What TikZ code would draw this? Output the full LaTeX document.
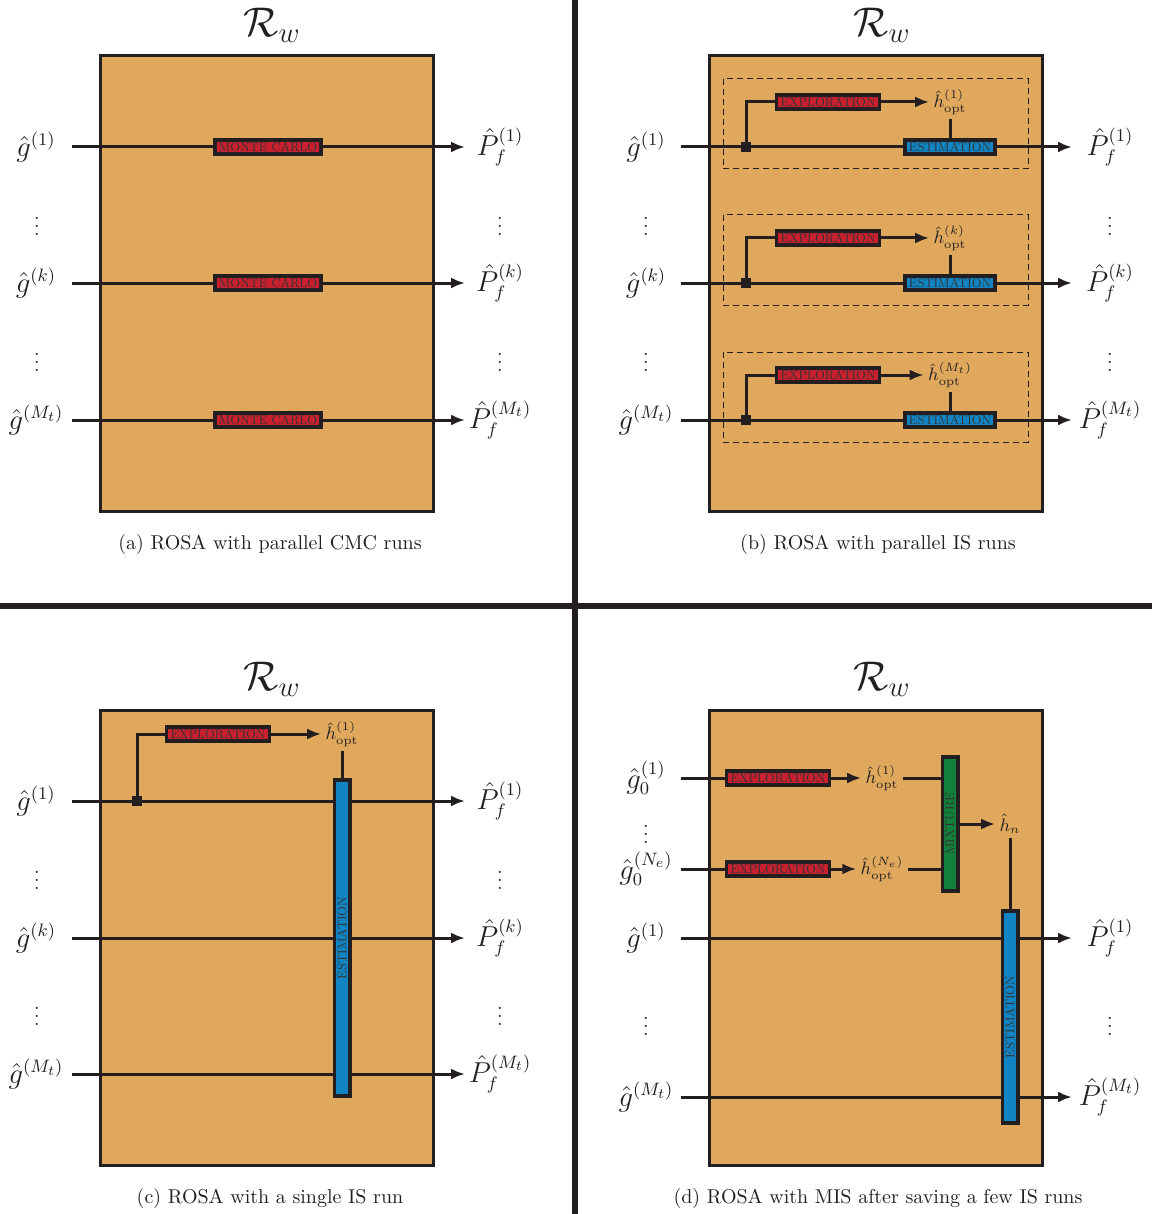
\documentclass[tikz,border=0pt]{standalone}
\usepackage{amsmath}
\usepackage{amssymb}
\usepackage{tikz}
\usetikzlibrary{arrows.meta}

\definecolor{rwfill}{RGB}{223,168,93}
\definecolor{mcred}{RGB}{200,32,46}
\definecolor{isblue}{RGB}{17,133,196}
\definecolor{mixgreen}{RGB}{18,128,58}
\definecolor{ink}{RGB}{35,31,32}

% small capitals-like labels inside the blocks
\newcommand{\blocktext}[1]{\scalebox{0.63}{#1}}

\begin{document}
\begin{tikzpicture}[x=0.5pt, y=-0.5pt,  % one unit is one pixel of the sketch, y runs downwards
    wire/.style={draw=ink, line width=1.5pt},
    arr/.style={wire, -{Latex[length=7pt,width=5.5pt]}},
    panel/.style={draw=ink, fill=rwfill, line width=1.5pt},
    blockbox/.style={draw=ink, line width=1.8pt, text=black!80,
        inner xsep=2.1pt, inner ysep=0pt, minimum height=7.2pt},
    redbox/.style={blockbox, fill=mcred},
    bluebox/.style={blockbox, fill=isblue},
    greenbox/.style={blockbox, fill=mixgreen},
    tallbox/.style={inner xsep=1pt, minimum width=7.7pt},
    junction/.style={fill=ink, inner sep=0pt, minimum size=5pt},
    title/.style={font=\huge, text=ink, inner sep=0pt},
    lab/.style={font=\fontsize{13.5}{16}\selectfont, text=ink, inner sep=1pt},
    hlab/.style={font=\small, text=ink, inner sep=2pt},
    vdot/.style={text=ink, inner sep=0pt},
    caption/.style={font=\normalsize, text=ink, inner sep=1pt},
    dashbox/.style={draw=ink, line width=0.5pt, dash pattern=on 3pt off 2pt}
]
    \useasboundingbox (0,0) rectangle (1152,1214);

    % Separators between the four sub-figures
    \draw[ink, line width=3pt] (575,0) -- (575,1214);
    \draw[ink, line width=3pt] (0,606) -- (1152,606);

    % ---------- (a) parallel CMC runs ----------
    \node[title] (ta) at (272,25) {$\mathcal{R}_w$};
    \draw[panel] (100,56) rectangle (433,511);
    \foreach \y/\k [count=\i] in {147/1, 283/k, 420/M_t} {
        \node[lab] (ga\i) at (36,\y) {$\hat{g}^{(\k)}$};
        \coordinate (ina\i) at (72,\y);
        \coordinate (outa\i) at (465,\y);
        \draw[arr] (ina\i) -- (outa\i);
        \node[redbox] (mca\i) at (268,\y) {\blocktext{MONTE CARLO}};
        \node[lab] (pa\i) at (500,\y) {$\hat{P}_f^{(\k)}$};
    }
    \foreach \y [count=\i] in {220, 356} {
        \node[vdot] (dla\i) at (37,\y) {$\vdots$};
        \node[vdot] (dra\i) at (500,\y) {$\vdots$};
    }
    \node[caption] (ca) at (270,544) {(a) ROSA with parallel CMC runs};

    % ---------- (b) parallel IS runs ----------
    \node[title] (tb) at (882,25) {$\mathcal{R}_w$};
    \draw[panel] (709,56) rectangle (1042,511);
    \foreach \y/\k [count=\i] in {147/1, 283/k, 420/M_t} {
        \draw[dashbox] (723,\y-68) rectangle (1028,\y+22);
        \node[lab] (gb\i) at (646,\y) {$\hat{g}^{(\k)}$};
        \coordinate (inb\i) at (681,\y);
        \coordinate (outb\i) at (1072,\y);
        \draw[arr] (inb\i) -- (outb\i);
        \node[junction] (jb\i) at (746,\y) {};
        \node[redbox] (xb\i) at (828,\y-45) {\blocktext{EXPLORATION}};
        \node[hlab] (hb\i) at (950,\y-45) {$\hat{h}_{\text{opt}}^{(\k)}$};
        \node[bluebox] (eb\i) at (950,\y) {\blocktext{ESTIMATION}};
        \node[lab] (pb\i) at (1110,\y) {$\hat{P}_f^{(\k)}$};
        \draw[wire] (jb\i.center) |- (xb\i);
        \draw[arr] (xb\i) -- (hb\i);
        \draw[wire] (hb\i) -- (eb\i);
    }
    \foreach \y [count=\i] in {220, 356} {
        \node[vdot] (dlb\i) at (646,\y) {$\vdots$};
        \node[vdot] (drb\i) at (1110,\y) {$\vdots$};
    }
    \node[caption] (cb) at (878,544) {(b) ROSA with parallel IS runs};

    % ---------- (c) single IS run ----------
    \node[title] (tc) at (272,679) {$\mathcal{R}_w$};
    \draw[panel] (100,710) rectangle (433,1165);
    \foreach \y/\k [count=\i] in {801/1, 938/k, 1074/M_t} {
        \node[lab] (gc\i) at (36,\y) {$\hat{g}^{(\k)}$};
        \coordinate (inc\i) at (72,\y);
        \coordinate (outc\i) at (465,\y);
        \draw[arr] (inc\i) -- (outc\i);
        \node[lab] (pc\i) at (500,\y) {$\hat{P}_f^{(\k)}$};
    }
    \foreach \y [count=\i] in {874, 1010} {
        \node[vdot] (dlc\i) at (37,\y) {$\vdots$};
        \node[vdot] (drc\i) at (500,\y) {$\vdots$};
    }
    \node[junction] (jc) at (137,801) {};
    \node[redbox] (xc) at (218,734) {\blocktext{EXPLORATION}};
    \node[hlab] (hc) at (342,734) {$\hat{h}_{\text{opt}}^{(1)}$};
    \node[bluebox, tallbox, minimum height=158pt] (ec) at (342,938) {\rotatebox{90}{\blocktext{ESTIMATION}}};
    \draw[wire] (jc.center) |- (xc);
    \draw[arr] (xc) -- (hc);
    \draw[wire] (hc) -- (ec);
    \node[caption] (cc) at (270,1198) {(c) ROSA with a single IS run};

    % ---------- (d) MIS after a few IS runs ----------
    \node[title] (td) at (882,679) {$\mathcal{R}_w$};
    \draw[panel] (709,710) rectangle (1042,1165);
    \node[greenbox, tallbox, minimum height=67.2pt] (mx) at (950,824) {\rotatebox{90}{\blocktext{MIXTURE}}};
    \foreach \y/\k [count=\i] in {778/1, 869/N_e} {
        \node[lab] (g0d\i) at (646,\y) {$\hat{g}_0^{(\k)}$};
        \coordinate (in0d\i) at (681,\y);
        \node[redbox] (xd\i) at (778,\y) {\blocktext{EXPLORATION}};
        \node[hlab] (hd\i) at (882,\y) {$\hat{h}_{\text{opt}}^{(\k)}$};
        \draw[wire] (in0d\i) -- (xd\i);
        \draw[arr] (xd\i) -- (hd\i);
        \draw[wire] (hd\i) -- (hd\i -| mx.west);
    }
    \node[vdot] (d0d) at (646,828) {$\vdots$};
    \foreach \y/\k [count=\i] in {938/1, 1097/M_t} {
        \node[lab] (gd\i) at (646,\y) {$\hat{g}^{(\k)}$};
        \coordinate (ind\i) at (681,\y);
        \coordinate (outd\i) at (1072,\y);
        \draw[arr] (ind\i) -- (outd\i);
        \node[lab] (pd\i) at (1110,\y) {$\hat{P}_f^{(\k)}$};
    }
    \node[vdot] (dld) at (646,1020) {$\vdots$};
    \node[vdot] (drd) at (1110,1020) {$\vdots$};
    \node[hlab] (hn) at (1010,824) {$\hat{h}_n$};
    \node[bluebox, tallbox, minimum height=106.2pt] (ed) at (1010,1017) {\rotatebox{90}{\blocktext{ESTIMATION}}};
    \draw[arr] (mx) -- (hn);
    \draw[wire] (hn) -- (ed);
    \node[caption] (cd) at (878,1198) {(d) ROSA with MIS after saving a few IS runs};
\end{tikzpicture}
\end{document}
